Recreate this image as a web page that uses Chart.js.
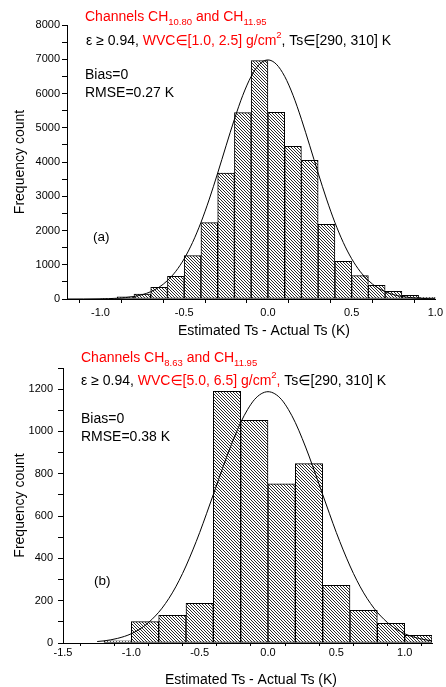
<!DOCTYPE html>
<html><head><meta charset="utf-8">
<script src="https://cdn.jsdelivr.net/npm/chart.js@4.4.1/dist/chart.umd.min.js"></script>
<style>
html,body{margin:0;padding:0;background:#fff;width:446px;height:687px;overflow:hidden}
.wrap{position:absolute;left:0}
canvas{display:block}
</style></head><body>
<div class="wrap" style="top:0"><canvas id="c1" width="446" height="345"></canvas></div>
<div class="wrap" style="top:345px"><canvas id="c2" width="446" height="342"></canvas></div>
<script>
const FONT = "'Liberation Sans', Arial, 'DejaVu Sans', sans-serif";
const RED = '#ff0000';

// ---------- Panel (a) data ----------
const binCentersA = [-0.95,-0.85,-0.75,-0.65,-0.55,-0.45,-0.35,-0.25,-0.15,-0.05,0.05,0.15,0.25,0.35,0.45,0.55,0.65,0.75,0.85,0.95];
const countsA     = [20,60,146,341,662,1265,2229,3679,5440,6960,5450,4457,4049,2180,1100,681,399,224,107,49];
const fitXA = [-1.2,-1.1,-1.0,-0.9,-0.8,-0.75,-0.7,-0.65,-0.6,-0.55,-0.5,-0.45,-0.4,-0.35,-0.3,-0.25,-0.2,-0.15,-0.1,-0.05,0,0.05,0.1,0.15,0.2,0.25,0.3,0.35,0.4,0.45,0.5,0.55,0.6,0.65,0.7,0.75,0.8,0.9,1.0];
const fitYA = [0,1,6,22,73,127,213,345,538,810,1177,1651,2234,2918,3678,4473,5250,5948,6500,6857,6980,6857,6500,5948,5250,4473,3678,2918,2234,1651,1177,810,538,345,213,127,73,22,6];
const xTicksA = [-1.0,-0.75,-0.5,-0.25,0,0.25,0.5,0.75,1.0];

// ---------- Panel (b) data ----------
const binCentersB = [-1.1,-0.9,-0.7,-0.5,-0.3,-0.1,0.1,0.3,0.5,0.7,0.9,1.1];
const countsB     = [10,101,131,188,1190,1053,753,848,273,154,93,36];
const fitXB = [-1.25,-1.2,-1.1,-1.0,-0.9,-0.8,-0.75,-0.7,-0.65,-0.6,-0.55,-0.5,-0.45,-0.4,-0.35,-0.3,-0.25,-0.2,-0.15,-0.1,-0.05,0,0.05,0.1,0.15,0.2,0.25,0.3,0.35,0.4,0.45,0.5,0.55,0.6,0.65,0.7,0.75,0.8,0.9,1.0,1.1,1.2];
const fitYB = [7,10,22,44,83,145,187,237,296,364,440,522,611,702,794,884,967,1042,1103,1150,1178,1188,1178,1150,1103,1042,967,884,794,702,611,522,440,364,296,237,187,145,83,44,22,10];
const xTicksB = [-1.5,-1.25,-1.0,-0.75,-0.5,-0.25,0,0.25,0.5,0.75,1.0];

function hatch(){
  const c=document.createElement('canvas'); c.width=3; c.height=3;
  const g=c.getContext('2d');
  g.fillStyle='#fff'; g.fillRect(0,0,3,3);
  g.fillStyle='#2a2a2a';
  for(let i=0;i<3;i++) g.fillRect(i,i,1,1);
  return g.createPattern(c,'repeat');
}

function rich(ctx, x, y, segs){
  ctx.save();
  ctx.textBaseline='alphabetic'; ctx.textAlign='left';
  for(const s of segs){
    ctx.font = (s.size||14)+'px '+FONT;
    ctx.fillStyle = s.color||'#000';
    ctx.fillText(s.t, x, y+(s.dy||0));
    x += ctx.measureText(s.t).width;
  }
  ctx.restore();
}
function centered(ctx, text, x, y, size){
  ctx.save();
  ctx.font = size+'px '+FONT; ctx.fillStyle='#000';
  ctx.textAlign='center'; ctx.textBaseline='middle';
  ctx.fillText(text, x, y);
  ctx.restore();
}

function makeChart(id, cfg){
  const half = v => Math.abs(v*2-Math.round(v*2))<1e-9;
  return new Chart(document.getElementById(id), {
    type:'bar',
    data:{datasets:[
      {type:'line', data: cfg.fitX.map((x,i)=>({x, y: cfg.fitY[i]})), borderColor:'#000', borderWidth:1,
       pointRadius:0, fill:false, cubicInterpolationMode:'monotone', order:1},
      {type:'bar', data: cfg.centers.map((x,i)=>({x, y: cfg.counts[i]})), backgroundColor: hatch(),
       borderColor:'#000', borderWidth:1, borderSkipped:false, barPercentage:1, categoryPercentage:1, order:2}
    ]},
    options:{
      responsive:false, animation:false, devicePixelRatio:1,
      layout:{padding:{top:cfg.padTop, right:cfg.padRight, left:0, bottom:0}},
      plugins:{legend:{display:false}, tooltip:{enabled:false}},
      scales:{
        x:{type:'linear', min:cfg.xmin, max:cfg.xmax, offset:false,
          afterBuildTicks: s=>{ s.ticks = cfg.xTicks.map(v=>({value:v})); },
          afterFit: s=>{ s.height = cfg.xHeight; },
          grid:{display:true, drawOnChartArea:false, drawTicks:true, tickLength:cfg.xTickLen, color:'#000'},
          border:{display:true, color:'#000', width:1},
          ticks:{autoSkip:false, maxRotation:0, padding:cfg.xTickPad, color:'#000', font:{size:11, family:FONT},
            callback: v => half(v) ? v.toFixed(1) : ''}
        },
        y:{min:0, max:cfg.ymax,
          afterFit: s=>{ s.width = cfg.yWidth; },
          grid:{display:true, drawOnChartArea:false, drawTicks:true, tickLength:5, color:'#000'},
          border:{display:true, color:'#000', width:1},
          ticks:{stepSize:cfg.yStep, autoSkip:false, padding:cfg.yTickPad, color:'#000', font:{size:11, family:FONT},
            callback: v => (v % cfg.yLabelStep === 0) ? String(v) : ''},
          title:{display:true, text:'Frequency count', color:'#000', font:{size:14, family:FONT}, padding:{top:12, bottom:0}}
        }
      }
    },
    plugins:[{id:'ann', afterDraw(chart){ cfg.annotate(chart.ctx); }}]
  });
}

makeChart('c1', {
  centers:binCentersA, counts:countsA, fitX:fitXA, fitY:fitYA, xTicks:xTicksA,
  xmin:-1.2, xmax:1.0, ymax:8000, yStep:500, yLabelStep:1000,
  padTop:25, padRight:9, xHeight:46, yWidth:67, xTickLen:4, xTickPad:3, yTickPad:2,
  annotate(ctx){
    rich(ctx, 85, 20.5, [{t:'Channels CH', color:RED},{t:'10.80', color:RED, size:9.5, dy:4.3},{t:' and CH', color:RED},{t:'11.95', color:RED, size:9.5, dy:4.3}]);
    rich(ctx, 86, 44.5, [{t:'\u03b5 \u2265 0.94, '},{t:'WVC\u2208[1.0, 2.5] g/cm', color:RED},{t:'2', color:RED, size:9.5, dy:-7},{t:', Ts\u2208[290, 310] K'}]);
    rich(ctx, 85, 79, [{t:'Bias=0'}]);
    rich(ctx, 85, 96.7, [{t:'RMSE=0.27 K'}]);
    rich(ctx, 93, 241, [{t:'(a)', size:13.5}]);
    centered(ctx, 'Estimated Ts - Actual Ts (K)', 264, 331, 14);
  }
});

makeChart('c2', {
  centers:binCentersB, counts:countsB, fitX:fitXB, fitY:fitYB, xTicks:xTicksB,
  xmin:-1.5, xmax:1.2, ymax:1300, yStep:100, yLabelStep:200,
  padTop:23, padRight:14, xHeight:44, yWidth:63, xTickLen:3, xTickPad:0, yTickPad:5,
  annotate(ctx){
    rich(ctx, 81, 16.5, [{t:'Channels CH', color:RED},{t:'8.63', color:RED, size:9.5, dy:4.3},{t:' and CH', color:RED},{t:'11.95', color:RED, size:9.5, dy:4.3}]);
    rich(ctx, 81, 40, [{t:'\u03b5 \u2265 0.94, '},{t:'WVC\u2208[5.0, 6.5] g/cm', color:RED},{t:'2', color:RED, size:9.5, dy:-7},{t:',', color:RED},{t:' Ts\u2208[290, 310] K'}]);
    rich(ctx, 81, 78, [{t:'Bias=0'}]);
    rich(ctx, 81, 95.7, [{t:'RMSE=0.38 K'}]);
    rich(ctx, 94, 240, [{t:'(b)', size:13.5}]);
    centered(ctx, 'Estimated Ts - Actual Ts (K)', 251, 335, 14);
  }
});
</script>
</body></html>
